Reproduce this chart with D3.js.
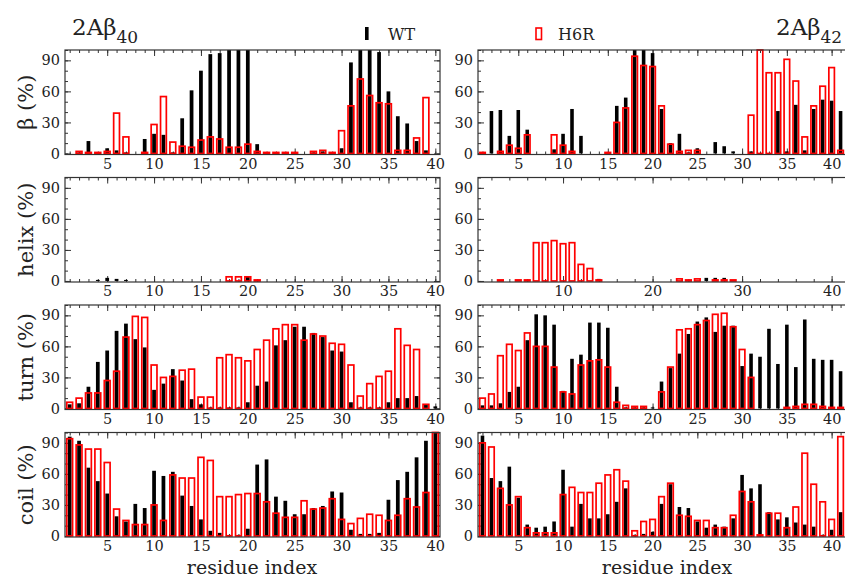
<!DOCTYPE html>
<html>
<head>
<meta charset="utf-8">
<script src="https://cdn.jsdelivr.net/npm/d3@7"></script>
<style>
  body { margin: 0; background: #fff; }
  svg { display: block; }
</style>
</head>
<body>
<svg id="chart" width="845" height="580"></svg>
<script>
// residue numbers
var residues40 = d3.range(1, 41);
var residues42 = d3.range(1, 42);

// 2Abeta40, WT and H6R (percent)
var betaWT40  = [0,1,12,0,5,3,1,0,14,19,18,1,34,61,80,96,97,100,100,100,9,1,1,1,0,0,1,2,0,5,88,100,100,98,60,36,29,12,3,0];
var betaH6R40 = [0,2,1,1,2,39,16,0,1,28,55,11,7,6,13,16,14,6,6,9,2,1,1,1,1,0,2,3,1,22,46,72,56,49,48,3,3,15,54,0];
var helixWT40  = [0,0,0,1,3,2,1,0,0,0,0,0,0,0,0,0,0,0,0,4,0,0,0,0,0,0,0,0,0,0,0,0,0,0,0,0,0,0,0,0];
var helixH6R40 = [0,0,0,0,0,0,0,0,0,0,0,0,0,0,0,0,0,4,4,4,1,0,0,0,0,0,0,0,0,0,0,0,0,0,0,0,0,0,0,0];
var turnWT40  = [4,5,21,45,56,75,82,67,59,18,24,38,27,9,4,1,1,1,1,6,22,26,61,66,79,79,73,69,56,55,6,1,1,1,6,10,10,12,4,2];
var turnH6R40 = [6,10,15,15,27,36,69,89,88,42,30,31,37,38,11,11,49,52,49,46,57,66,77,81,81,66,72,70,63,62,42,12,24,31,36,77,61,57,4,0];
var coilWT40  = [96,92,66,53,41,19,14,31,27,63,58,62,39,29,16,5,3,1,1,7,69,74,38,34,21,21,27,29,43,42,6,2,2,3,35,54,62,76,92,100];
var coilH6R40 = [94,88,84,84,71,26,15,11,11,30,15,59,56,56,76,73,38,38,40,41,41,33,22,18,18,34,26,27,36,16,12,17,21,20,15,20,36,28,42,100];

// 2Abeta42, WT and H6R (percent)
var betaWT42  = [0,41,42,17,42,23,0,0,4,19,43,17,0,0,1,46,54,100,100,97,43,10,19,1,5,0,11,7,2,0,2,0,0,41,2,47,3,43,52,51,41];
var betaH6R42 = [1,0,2,8,5,18,0,0,18,8,2,0,0,0,1,30,44,94,85,84,46,9,2,3,3,0,0,0,0,0,37,100,78,78,91,70,16,46,65,83,3];
var helixWT42  = [0,0,0,0,0,0,0,0,0,0,0,0,0,2,0,0,0,0,0,0,0,0,0,0,0,3,3,3,0,0,0,0,0,0,0,0,0,0,0,0,0];
var helixH6R42 = [0,0,1,0,1,1,37,37,39,36,37,16,12,1,0,0,0,0,0,0,0,0,2,1,2,0,1,1,1,0,0,0,0,0,0,0,0,0,0,0,0];
var turnWT42  = [3,3,5,16,21,66,91,90,81,17,48,52,83,83,78,21,1,1,1,1,26,39,53,72,84,88,74,80,80,41,53,50,77,43,81,40,86,48,47,47,36];
var turnH6R42 = [10,14,51,62,56,73,60,60,40,16,14,42,46,47,40,6,3,2,2,0,16,40,76,77,81,85,91,92,79,57,30,0,0,0,1,2,4,4,2,1,1];
var coilWT42  = [97,56,53,67,37,11,8,9,14,64,9,31,17,17,21,33,46,1,2,4,31,50,28,27,14,8,11,9,17,59,46,50,23,16,18,13,11,9,1,6,23];
var coilH6R42 = [90,86,46,30,38,8,3,3,3,40,47,42,42,51,59,64,53,5,14,16,38,51,20,19,15,15,8,8,20,43,33,1,22,22,8,28,80,50,33,16,96];

var yLabels = ["β (%)", "helix (%)", "turn (%)", "coil (%)"];
var yTicks = [0, 30, 60, 90];
var seriesNames = ["WT", "H6R"];

var svg = d3.select("#chart");
var FONT = "DejaVu Serif, serif";
var frameColor = "#333";

var rowTops = [50, 177.5, 305, 432.5];
var panelH = 104.5;

var cols = [
  { left: 65, right: 440, domain: [0.5, 40.5], res: residues40,
    data: [[betaWT40, betaH6R40], [helixWT40, helixH6R40], [turnWT40, turnH6R40], [coilWT40, coilH6R40]] },
  { left: 478, right: 854, domain: [0.5, 42.5], res: residues42,
    data: [[betaWT42, betaH6R42], [helixWT42, helixH6R42], [turnWT42, turnH6R42], [coilWT42, coilH6R42]] }
];

function styleAxis(g, size) {
  g.select(".domain").remove();
  g.attr("font-family", FONT).attr("font-size", size || 14.5).attr("color", frameColor);
  g.selectAll("text").attr("fill", "#222");
}

cols.forEach(function(c, ci) {
  var x = d3.scaleLinear().domain(c.domain).range([c.left, c.right]);
  var unit = x(2) - x(1);

  c.data.forEach(function(pair, ri) {
    var top = rowTops[ri];
    var bottom = top + panelH;
    var y = d3.scaleLinear().domain([-1, 100]).range([bottom, top]);
    var g = svg.append("g").attr("class", "panel");

    // x ticks: helix panel of the right column uses 10s
    var majX, minX;
    if (ci == 1 && ri == 1) {
      majX = [10, 20, 30, 40];
      minX = d3.range(2, 43, 2);
    } else {
      majX = d3.range(5, c.domain[1], 5);
      minX = d3.range(1, c.domain[1]);
    }
    var minY = d3.range(0, 101, 10);

    // minor ticks
    g.append("g").attr("transform", "translate(0," + bottom + ")")
      .call(d3.axisBottom(x).tickValues(minX).tickSize(-3).tickFormat(""))
      .call(styleAxis);
    g.append("g").attr("transform", "translate(0," + top + ")")
      .call(d3.axisTop(x).tickValues(minX).tickSize(-3).tickFormat(""))
      .call(styleAxis);
    g.append("g").attr("transform", "translate(" + c.left + ",0)")
      .call(d3.axisLeft(y).tickValues(minY).tickSize(-3).tickFormat(""))
      .call(styleAxis);
    g.append("g").attr("transform", "translate(" + c.right + ",0)")
      .call(d3.axisRight(y).tickValues(minY).tickSize(-3).tickFormat(""))
      .call(styleAxis);

    // major ticks
    g.append("g").attr("transform", "translate(0," + bottom + ")")
      .call(d3.axisBottom(x).tickValues(majX).tickSize(-6).tickPadding(4).tickFormat(d3.format("d")))
      .call(styleAxis);
    g.append("g").attr("transform", "translate(0," + top + ")")
      .call(d3.axisTop(x).tickValues(majX).tickSize(-6).tickFormat(""))
      .call(styleAxis);
    g.append("g").attr("transform", "translate(" + c.left + ",0)")
      .call(d3.axisLeft(y).tickValues(yTicks).tickSize(-6).tickPadding(5).tickFormat(d3.format("d")))
      .call(styleAxis);
    g.append("g").attr("transform", "translate(" + c.right + ",0)")
      .call(d3.axisRight(y).tickValues(yTicks).tickSize(-6).tickFormat(""))
      .call(styleAxis);

    // WT bars (filled black, narrow)
    var wt = pair[0], h6r = pair[1];
    g.append("g").selectAll("rect")
      .data(c.res)
      .join("rect")
      .attr("x", function(d) { return x(d) - unit * 0.2; })
      .attr("width", unit * 0.4)
      .attr("y", function(d, i) { return y(wt[i]); })
      .attr("height", function(d, i) { return y(0) - y(wt[i]); })
      .attr("fill", "#000");

    // H6R bars (red outline)
    g.append("g").selectAll("rect")
      .data(c.res)
      .join("rect")
      .attr("x", function(d) { return x(d) - unit * 0.31; })
      .attr("width", unit * 0.62)
      .attr("y", function(d, i) { return y(h6r[i]); })
      .attr("height", function(d, i) { return y(0) - y(h6r[i]); })
      .attr("fill", "none")
      .attr("stroke", "#f00")
      .attr("stroke-width", 1.7);

    // frame
    g.append("rect")
      .attr("x", c.left).attr("y", top)
      .attr("width", c.right - c.left).attr("height", panelH)
      .attr("fill", "none").attr("stroke", frameColor).attr("stroke-width", 1.2);

    if (ci == 0) {
      svg.append("text")
        .attr("transform", "translate(33," + (top + panelH / 2) + ") rotate(-90)")
        .attr("text-anchor", "middle")
        .attr("font-family", FONT).attr("font-size", 21)
        .attr("fill", "#222")
        .text(yLabels[ri]);
    }
  });

  // x label under the bottom panels
  svg.append("text")
    .attr("x", ci == 0 ? 252 : 667)
    .attr("y", 574)
    .attr("text-anchor", "middle")
    .attr("font-family", FONT).attr("font-size", 19)
    .attr("fill", "#222")
    .text("residue index");
});

// titles (right one pulled in a little so it stays inside the picture)
[["40", 72], ["42", 776]].forEach(function(t) {
  var txt = svg.append("text")
    .attr("x", t[1]).attr("y", 35)
    .attr("font-family", FONT).attr("font-size", 23)
    .attr("fill", "#222");
  txt.append("tspan").text("2Aβ");
  txt.append("tspan").attr("dy", 8).attr("font-size", 17).text(t[0]);
});

// legend
var leg = svg.append("g").attr("font-family", FONT).attr("font-size", 16).attr("fill", "#222");
leg.append("rect").attr("x", 365).attr("y", 27).attr("width", 3.6).attr("height", 13).attr("fill", "#000");
leg.append("text").attr("x", 388).attr("y", 40).text(seriesNames[0]);
leg.append("rect").attr("x", 536).attr("y", 28).attr("width", 5.5).attr("height", 11.5)
  .attr("fill", "none").attr("stroke", "#f00").attr("stroke-width", 1.6);
leg.append("text").attr("x", 558).attr("y", 40).text(seriesNames[1]);
</script>
</body>
</html>
